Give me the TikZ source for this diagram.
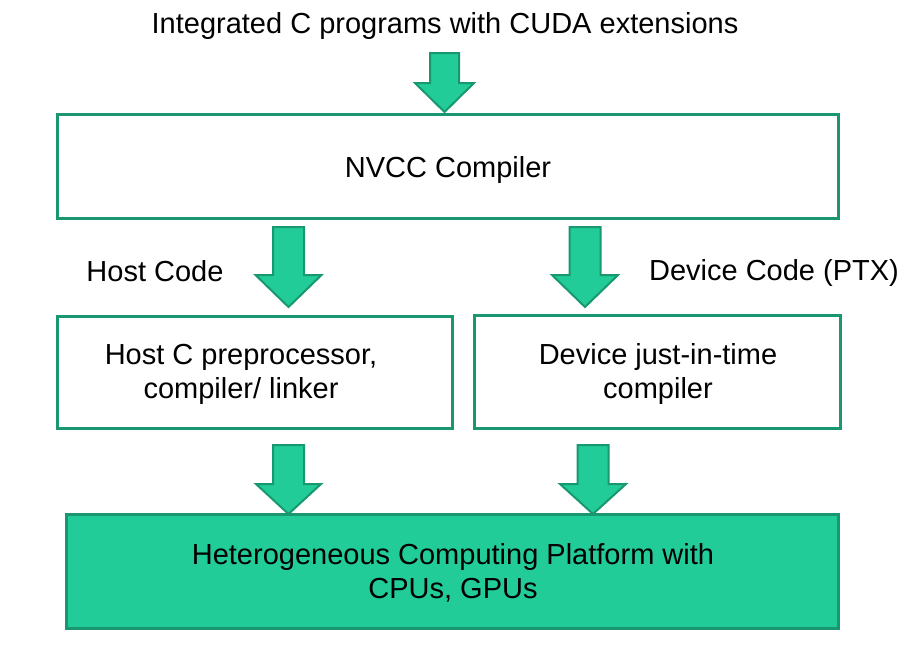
\documentclass[tikz,border=0pt]{standalone}
\usepackage{fontspec}
\setmainfont{Liberation Sans}
\definecolor{boxline}{RGB}{26,150,112}
\definecolor{boxfill}{RGB}{34,204,153}
\definecolor{arrline}{RGB}{24,152,110}
\tikzset{
  box/.style={draw=boxline, line width=3pt, rectangle, inner sep=0pt},
  lbl/.style={font=\fontsize{29}{34}\selectfont, inner sep=0pt, align=center},
  barr/.style={draw=arrline, fill=boxfill, line width=2pt, line join=miter}
}
% \barrow{cx}{top}{headtop}{tip}{halfshaft}{halfhead}
\newcommand\barrow[6]{%
  \path[barr] (#1-#5,#2) -- (#1+#5,#2) -- (#1+#5,#3) -- (#1+#6,#3) -- (#1,#4) -- (#1-#6,#3) -- (#1-#5,#3) -- cycle;}
\begin{document}
\begin{tikzpicture}[x=1pt,y=-1pt]
\useasboundingbox (0,0) rectangle (914,648);
\node[lbl] (title) at (445,26) {Integrated C programs with CUDA extensions};
\node[box, minimum width=781pt, minimum height=104pt] (nvcc) at (447.5,166) {};
\node[lbl] (nvcctext) at (448,170) {NVCC Compiler};
\node[lbl] (hostlbl) at (155,271.5) {Host Code};
\node[lbl] (devlbl) at (774,272.5) {Device Code (PTX)};
\node[box, minimum width=395pt, minimum height=112pt] (host) at (254.5,372) {};
\node[lbl] (hosttext) at (241,374) {Host C preprocessor,\\compiler/ linker};
\node[box, minimum width=366pt, minimum height=113pt] (dev) at (657,371.5) {};
\node[lbl] (devtext) at (658,374) {Device just-in-time\\compiler};
\node[box, fill=boxfill, minimum width=772pt, minimum height=114pt] (plat) at (452,571) {};
\node[lbl] (plattext) at (453,572.5) {Heterogeneous Computing Platform with\\CPUs, GPUs};
\barrow{444.5}{53}{83}{112}{14.5}{29.5}
\barrow{288.5}{227}{275}{307}{15.5}{33}
\barrow{585}{227}{275}{307}{15.5}{33}
\barrow{288.5}{445}{484}{514}{15.5}{32.5}
\barrow{593}{445}{484}{514}{15.5}{33}
\end{tikzpicture}
\end{document}
